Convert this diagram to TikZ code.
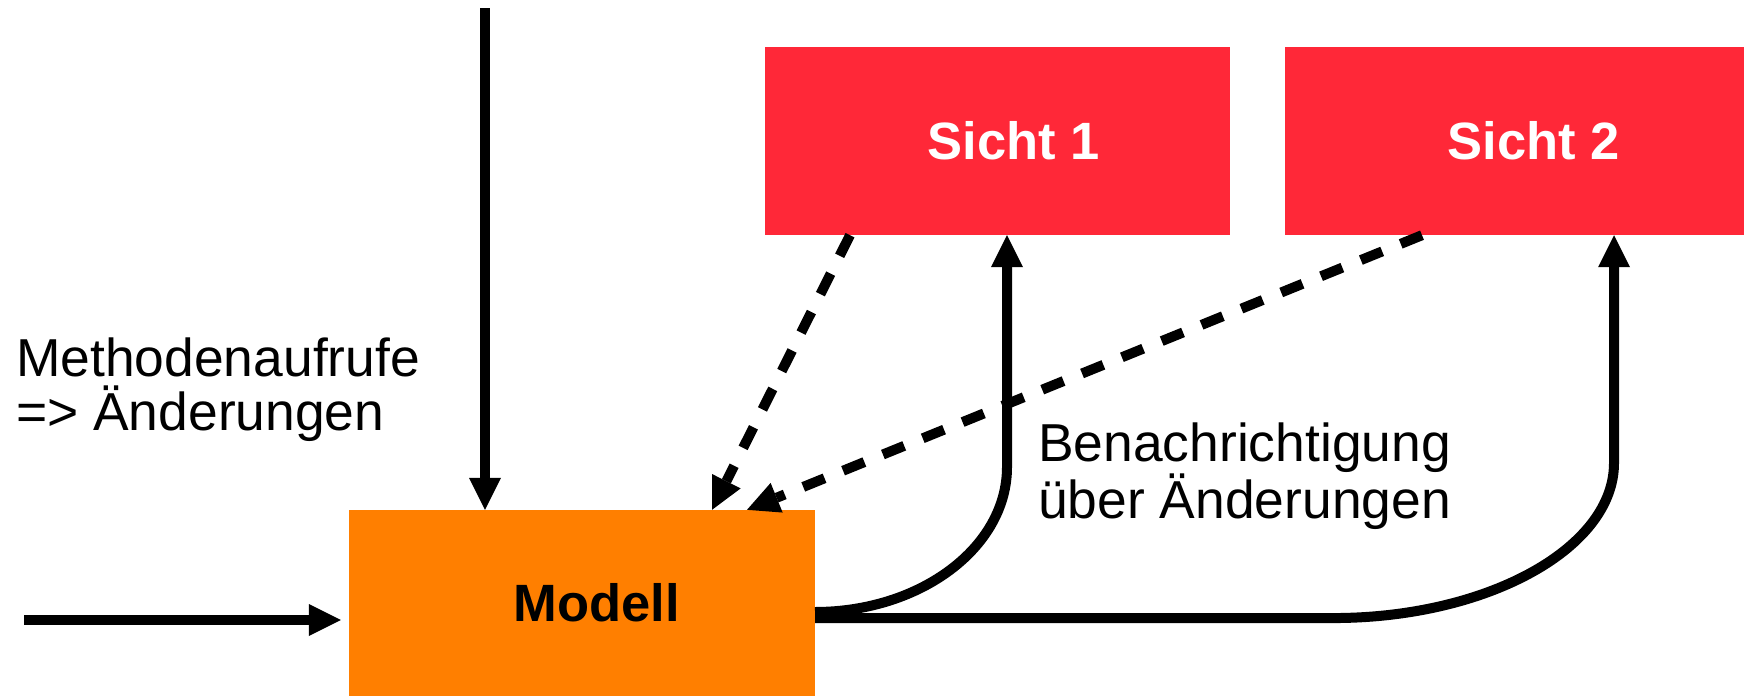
\documentclass[tikz,border=0pt]{standalone}
\usepackage{fontspec}
\setmainfont{Liberation Sans}
\usetikzlibrary{arrows.meta}
\definecolor{modellorange}{RGB}{255,127,0}
\definecolor{sichtred}{RGB}{255,40,56}
\begin{document}
\begin{tikzpicture}[x=1pt,y=-1pt,
  boxfont/.style={font=\fontsize{52.5pt}{54pt}\selectfont\bfseries},
  modellbox/.style={boxfont, fill=modellorange, text=black, inner sep=0pt,
    minimum width=466pt, minimum height=186pt},
  sichtbox/.style={boxfont, fill=sichtred, text=white, inner sep=0pt,
    minimum width=465pt, minimum height=188pt},
  lbl/.style={inner sep=0pt, font=\fontsize{53.4pt}{54pt}\selectfont, align=left, anchor=base west},
  conn/.style={line width=10pt, -{Triangle[length=32pt,width=32pt,line width=0pt]}},
  dashconn/.style={conn, dash pattern=on 23pt off 20pt}]
\useasboundingbox (0,0) rectangle (1744,696);

\node[modellbox] (modell) at (582,603) {\hspace*{30pt}Modell};
\node[sichtbox] (sicht1) at (997.5,141) {\hspace*{32pt}Sicht 1};
\node[sichtbox, minimum width=459pt] (sicht2) at (1514.5,141) {\hspace*{38pt}Sicht 2};

\node[lbl] (methoden) at (16,430) {Methodenaufrufe\\=> Änderungen};
\node[lbl] (benach) at (1038,518) {Benachrichtigung\\über Änderungen};

% incoming calls
\coordinate (topin) at (485,8);
\coordinate (leftin) at (24,620);
\draw[conn] (topin) -- (topin |- modell.north);
\draw[conn, shorten >=8pt] (leftin) -- (leftin -| modell.west);

% notifications
\coordinate (m1) at (815,612);
\coordinate (m2) at (815,618);
\coordinate (s1x) at (1007,0);
\coordinate (s2x) at (1614,0);
\draw[conn] (m1) .. controls (921,612) and (1007,547) .. (1007,467) -- (s1x |- sicht1.south);
\draw[conn] (m2) -- (1340,618) .. controls (1491,616) and (1614,547) .. (1614,463) -- (s2x |- sicht2.south);

% views query model
\coordinate (d1s) at (850,0);
\coordinate (d1e) at (712,0);
\coordinate (d2s) at (1422,0);
\coordinate (d2e) at (747,0);
\draw[dashconn] (d1s |- sicht1.south) -- (d1e |- modell.north);
\draw[dashconn] (d2s |- sicht2.south) -- (d2e |- modell.north);
\end{tikzpicture}
\end{document}
